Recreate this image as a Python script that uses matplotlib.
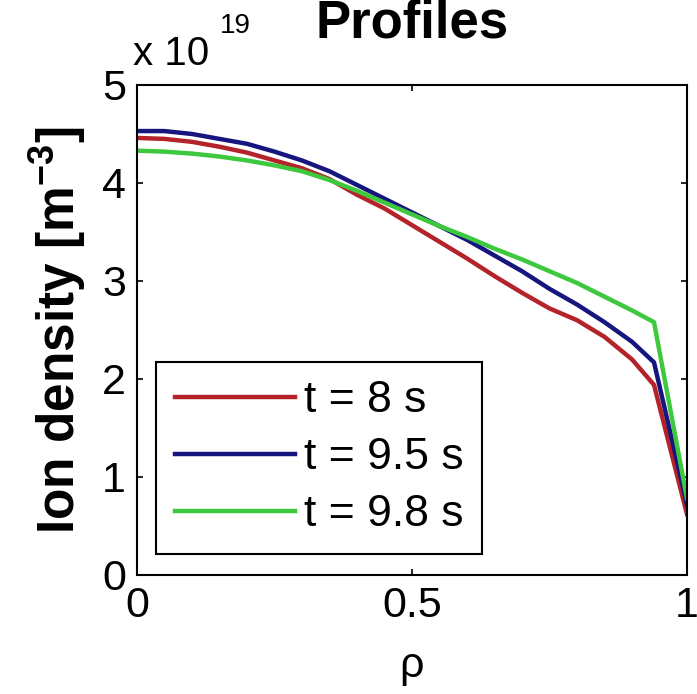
import matplotlib
matplotlib.use("Agg")
import matplotlib.pyplot as plt

# ---------------------------------------------------------------------------
# data, density in units of 1e19 m^-3
# ---------------------------------------------------------------------------
rho = [0.0, 0.05, 0.1, 0.15, 0.2, 0.25, 0.3, 0.35, 0.4, 0.45, 0.5,
       0.55, 0.6, 0.65, 0.7, 0.75, 0.8, 0.85, 0.9, 0.94, 1.0]

n_t8 = [4.46, 4.45, 4.42, 4.37, 4.31, 4.23, 4.15, 4.04, 3.88, 3.74, 3.57,
        3.40, 3.23, 3.05, 2.88, 2.72, 2.60, 2.43, 2.20, 1.94, 0.62]
n_t95 = [4.53, 4.53, 4.50, 4.45, 4.40, 4.32, 4.23, 4.12, 3.98, 3.84, 3.70,
         3.56, 3.42, 3.26, 3.10, 2.92, 2.76, 2.58, 2.38, 2.17, 0.72]
n_t98 = [4.33, 4.32, 4.30, 4.27, 4.23, 4.18, 4.12, 4.03, 3.92, 3.80, 3.68,
         3.56, 3.45, 3.33, 3.22, 3.10, 2.98, 2.84, 2.70, 2.58, 0.78]

labels = ["t = 8 s", "t = 9.5 s", "t = 9.8 s"]
colors = ["#b4222a", "#16167e", "#3ec83e"]

xticks = [0, 0.5, 1]
xtick_labels = ["0", "0.5", "1"]
yticks = [0, 1, 2, 3, 4, 5]

# ---------------------------------------------------------------------------
# figure
# ---------------------------------------------------------------------------
plt.rcParams['font.family'] = ['Liberation Sans', 'DejaVu Sans']

fig = plt.figure(figsize=(6.97, 6.94), dpi=100)
ax = fig.add_axes([137 / 697, 1 - 575 / 694, 550 / 697, 490 / 694])

for y, c, lab in zip([n_t8, n_t95, n_t98], colors, labels):
    ax.plot(rho, y, color=c, linewidth=3.2, label=lab)

ax.set_xlim(0, 1)
ax.set_ylim(0, 5)
ax.set_xticks(xticks)
ax.set_xticklabels(xtick_labels)
ax.set_yticks(yticks)

ax.tick_params(direction='in', length=4, width=1.2, labelsize=31,
               top=True, right=True, pad=8)
for s in ax.spines.values():
    s.set_linewidth(1.5)

ax.set_xlabel('ρ', fontsize=31, labelpad=14)
ax.set_ylabel('Ion density [m$^{\\mathregular{-3}}$]', fontsize=37,
              fontweight='bold', labelpad=10)
ax.set_title('Profiles', fontsize=38, fontweight='bold', pad=34)

# exponent label, MATLAB style
fig.text(133 / 697, 1 - 65 / 694, 'x 10', fontsize=29, ha='left', va='baseline')
fig.text(220 / 697, 1 - 33 / 694, '19', fontsize=20, ha='left', va='baseline')

leg = ax.legend(loc='lower left', bbox_to_anchor=(19 / 550, 21 / 490),
                borderaxespad=0, fontsize=32, handlelength=2.7,
                handletextpad=0.2, labelspacing=0.36, borderpad=0.42,
                fancybox=False, framealpha=1, edgecolor='black')
leg.get_frame().set_linewidth(1.5)

plt.savefig("out.png", dpi=100)
